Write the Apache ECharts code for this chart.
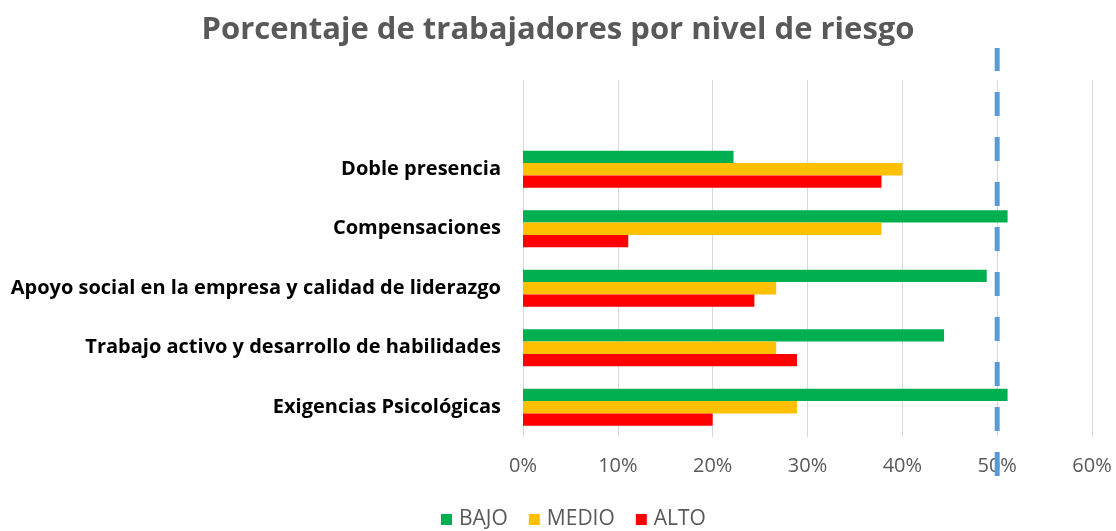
<!DOCTYPE html>
<html>
<head>
<meta charset="utf-8">
<script src="https://cdn.jsdelivr.net/npm/echarts@6/dist/echarts.min.js"></script>
<style>
html,body{margin:0;padding:0;background:#fff;}
#chart{width:1116px;height:531px;}
</style>
</head>
<body>
<div id="chart"></div>
<script>
const categories = ['Exigencias Psicológicas', 'Trabajo activo y desarrollo de habilidades', 'Apoyo social en la empresa y calidad de liderazgo', 'Compensaciones', 'Doble presencia', ''];
const bajo = [51.1, 44.4, 48.9, 51.1, 22.2, null];
const medio = [28.9, 26.7, 26.7, 37.8, 40.0, null];
const alto = [20.0, 28.9, 24.4, 11.1, 37.8, null];
const xTicks = [0, 10, 20, 30, 40, 50, 60];
const referenceLine = 50;
const seriesNames = ['BAJO', 'MEDIO', 'ALTO'];

const FONT = 'Open Sans';
const chart = echarts.init(document.getElementById('chart'), null, {renderer: 'canvas'});
const option = {
  animation: false,
  title: {
    text: 'Porcentaje de trabajadores por nivel de riesgo',
    left: 'center', top: 10,
    textStyle: {fontFamily: FONT, fontWeight: 'bold', fontSize: 31, color: '#595959'}
  },
  legend: {
    data: seriesNames,
    bottom: -4, left: 436,
    icon: 'rect', itemWidth: 11, itemHeight: 11, itemGap: 21,
    textStyle: {fontFamily: FONT, fontSize: 21, color: '#595959', padding: [0, 0, 0, 2]}
  },
  grid: [
    {left: 523, right: 24, top: 80, bottom: 94, containLabel: false},
    {left: 523, right: 24, top: 48, bottom: 55, containLabel: false}
  ],
  xAxis: [
    {
      type: 'value', gridIndex: 0, min: xTicks[0], max: xTicks[xTicks.length - 1], interval: 10,
      axisLine: {show: false}, axisTick: {show: false},
      axisLabel: {formatter: '{value}%', fontFamily: FONT, fontSize: 20, color: '#595959', margin: 19},
      splitLine: {show: true, lineStyle: {color: '#D9D9D9', width: 1}}
    },
    {
      type: 'value', gridIndex: 1, min: xTicks[0], max: xTicks[xTicks.length - 1], show: false
    }
  ],
  yAxis: [
    {
      type: 'category', gridIndex: 0, data: categories,
      axisLine: {show: false}, axisTick: {show: false},
      axisLabel: {fontFamily: FONT, fontWeight: 'bold', fontSize: 20, color: '#000000', margin: 22}
    },
    {type: 'value', gridIndex: 1, min: 0, max: 1, show: false}
  ],
  series: [
    {name: 'BAJO', type: 'bar', data: bajo, itemStyle: {color: '#00B050'}, barGap: '0%', barCategoryGap: '38%'},
    {name: 'MEDIO', type: 'bar', data: medio, itemStyle: {color: '#FFC000'}, barGap: '0%', barCategoryGap: '38%'},
    {name: 'ALTO', type: 'bar', data: alto, itemStyle: {color: '#FF0000'}, barGap: '0%', barCategoryGap: '38%'},
    {
      name: 'ref', type: 'line', xAxisIndex: 1, yAxisIndex: 1,
      data: [[referenceLine, 0], [referenceLine, 1]],
      symbol: 'none', silent: true, z: 5,
      lineStyle: {color: '#5B9BD5', width: 5, type: [24, 21], cap: 'butt'}
    }
  ]
};
chart.setOption(option);
</script>
</body>
</html>
